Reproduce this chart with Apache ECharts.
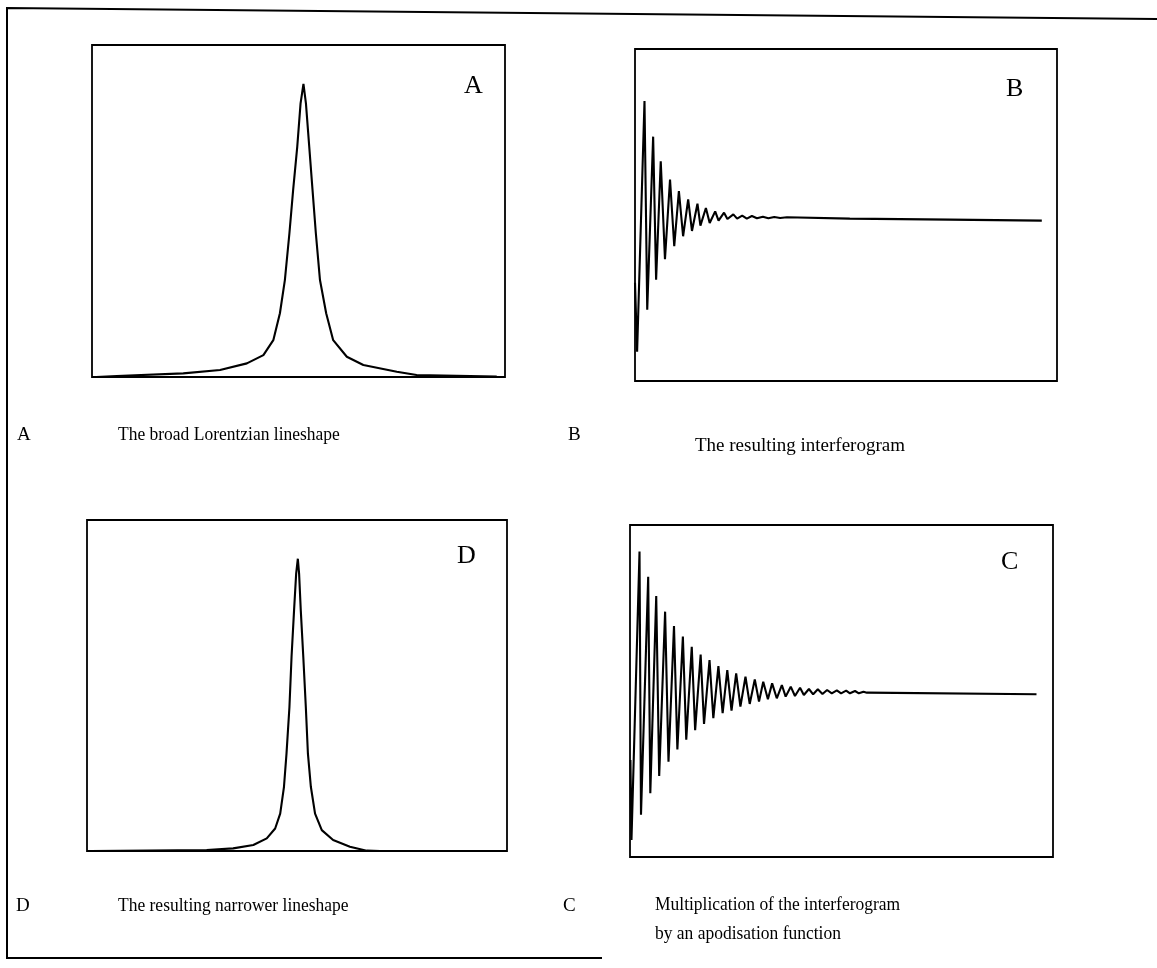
<!DOCTYPE html>
<html lang="en">
<head>
    <meta charset="UTF-8">
    <title>Lorentzian lineshape and interferogram</title>
    <script src="https://cdn.jsdelivr.net/npm/echarts@6/dist/echarts.min.js"></script>
    <style>
        html, body { margin: 0; padding: 0; background: #fff; }
        #main { width: 1157px; height: 968px; }
    </style>
</head>
<body>
<div id="main"></div>
<script>
    // panel A: broad Lorentzian lineshape (x, y in % of the box)
    var lorentzA = [
        [1, 0], [6.0, 0.3], [22.1, 1.1], [31.0, 2.1], [37.5, 4.1], [41.5, 6.6],
        [43.9, 11.1], [45.5, 19.2], [46.7, 29.2], [47.8, 43.3], [48.7, 56.3],
        [49.7, 69.4], [50.5, 82.4], [51.2, 88.3], [51.8, 82.4], [52.6, 69.4],
        [53.4, 56.3], [54.2, 43.3], [55.2, 29.2], [56.7, 19.2], [58.4, 11.1],
        [61.7, 6.1], [65.7, 3.6], [73.8, 1.6], [78.6, 0.6], [98.0, 0.1]
    ];

    // panel B: the resulting interferogram (vertices of the zigzag)
    var interferoB = [
        [0, 29.6], [0.5, 8.8], [2.25, 84.3], [2.9, 21.5], [4.3, 73.6], [5.0, 30.5],
        [6.1, 66.2], [7.1, 36.7], [8.3, 60.7], [9.3, 40.6], [10.4, 57.2], [11.4, 43.6],
        [12.6, 54.7], [13.5, 45.2], [14.8, 53.4], [15.5, 46.8], [16.8, 52.1], [17.7, 47.6],
        [19.0, 51.1], [19.8, 48.3], [21.1, 50.7], [21.9, 48.8], [23.3, 50.2], [24.2, 48.9],
        [25.4, 49.8], [26.5, 48.9], [27.7, 49.7], [28.9, 49.0], [30.3, 49.5], [31.6, 49.0],
        [33.0, 49.4], [34.4, 49.1], [36.0, 49.3], [50.9, 48.9], [74.6, 48.6], [96.4, 48.3]
    ];

    // panel C: interferogram multiplied by an apodisation function
    var apodizedC = [
        [0.1, 29.2], [0.35, 5.1], [2.25, 92.0], [2.6, 12.7], [4.3, 84.4], [4.8, 19.2],
        [6.2, 78.6], [6.9, 24.4], [8.3, 73.9], [9.1, 28.7], [10.4, 69.6], [11.2, 32.4],
        [12.5, 66.4], [13.3, 35.3], [14.6, 63.3], [15.4, 38.2], [16.7, 61.0], [17.5, 40.1],
        [18.8, 59.3], [19.7, 41.8], [20.9, 57.5], [21.9, 43.3], [23.0, 56.3], [24.0, 44.1],
        [25.1, 55.3], [26.1, 45.3], [27.3, 54.3], [28.3, 46.1], [29.5, 53.5], [30.5, 46.8],
        [31.5, 52.8], [32.6, 47.5], [33.6, 52.3], [34.7, 47.8], [35.9, 51.8], [36.8, 48.3],
        [38.0, 51.3], [39.0, 48.5], [40.2, 51.0], [41.1, 48.8], [42.3, 50.6], [43.3, 49.0],
        [44.4, 50.5], [45.5, 49.1], [46.6, 50.3], [47.7, 49.3], [48.9, 50.2], [49.9, 49.3],
        [51.1, 50.1], [52.0, 49.3], [53.2, 50.0], [54.1, 49.3], [55.2, 49.8], [56.0, 49.5],
        [96.1, 49.0]
    ];

    // panel D: the resulting narrower lineshape
    var narrowD = [
        [1, 0], [28.5, 0.3], [34.8, 0.8], [39.6, 1.8], [42.8, 3.8], [44.8, 6.8],
        [46.0, 11.3], [46.9, 19.4], [47.5, 29.4], [48.2, 43.5], [48.7, 58.6],
        [49.3, 72.7], [49.8, 83.8], [50.2, 88.3], [50.5, 83.8], [50.9, 72.7],
        [51.5, 58.6], [52.1, 43.5], [52.6, 29.4], [53.3, 19.4], [54.3, 11.3],
        [55.9, 6.3], [58.6, 3.3], [62.6, 1.3], [66.6, 0.1], [69.8, 0], [99, 0]
    ];

    var panelLetters = ['A', 'B', 'C', 'D'];
    var captions = [
        'The broad Lorentzian lineshape',
        'The resulting interferogram',
        'Multiplication of the interferogram',
        'by an apodisation function',
        'The resulting narrower lineshape'
    ];

    var serif = '"Liberation Serif", "DejaVu Serif", serif';

    // boxes: A, B, C, D
    var grids = [
        {left: 92, top: 45, width: 413, height: 332},
        {left: 635, top: 49, width: 422, height: 332},
        {left: 630, top: 525, width: 423, height: 332},
        {left: 87, top: 520, width: 420, height: 331}
    ];
    var curves = [lorentzA, interferoB, apodizedC, narrowD];

    // squeeze: the scanned captions are a bit narrower than the font
    function txt(x, y, s, size, squeeze) {
        return {
            type: 'text', x: x, y: y,
            scaleX: squeeze || 1,
            style: {text: s, font: size + 'px ' + serif, fill: '#000', textVerticalAlign: 'top'}
        };
    }

    var myChart = echarts.init(document.getElementById('main'), null, {renderer: 'canvas'});

    var option = {
        animation: false,
        backgroundColor: '#fff',
        grid: grids.map(function (g) {
            return {
                left: g.left, top: g.top, width: g.width, height: g.height,
                show: true, borderColor: '#000', borderWidth: 1.8, backgroundColor: 'transparent'
            };
        }),
        xAxis: grids.map(function (g, i) {
            return {type: 'value', gridIndex: i, min: 0, max: 100, show: false};
        }),
        yAxis: grids.map(function (g, i) {
            return {type: 'value', gridIndex: i, min: 0, max: 100, show: false};
        }),
        series: curves.map(function (c, i) {
            return {
                type: 'line',
                xAxisIndex: i,
                yAxisIndex: i,
                data: c,
                symbol: 'none',
                lineStyle: {color: '#000', width: 2.1}
            };
        }),
        graphic: [
            // outer frame
            {type: 'polyline', shape: {points: [[1157, 19], [7, 8], [7, 958], [602, 958]]},
             style: {stroke: '#000', lineWidth: 2, fill: null}},
            // letters inside the boxes
            txt(464, 73, panelLetters[0], 26),
            txt(1006, 76, panelLetters[1], 26),
            txt(1001, 549, panelLetters[2], 26),
            txt(457, 543, panelLetters[3], 26),
            // captions
            txt(17, 426, 'A', 19),
            txt(118, 426, captions[0], 19, 0.92),
            txt(568, 426, 'B', 19),
            txt(695, 437, captions[1], 19),
            txt(16, 897, 'D', 19),
            txt(118, 897, captions[4], 19, 0.92),
            txt(563, 897, 'C', 19),
            txt(655, 896, captions[2], 19, 0.92),
            txt(655, 925, captions[3], 19, 0.92)
        ]
    };

    myChart.setOption(option);
</script>
</body>
</html>
